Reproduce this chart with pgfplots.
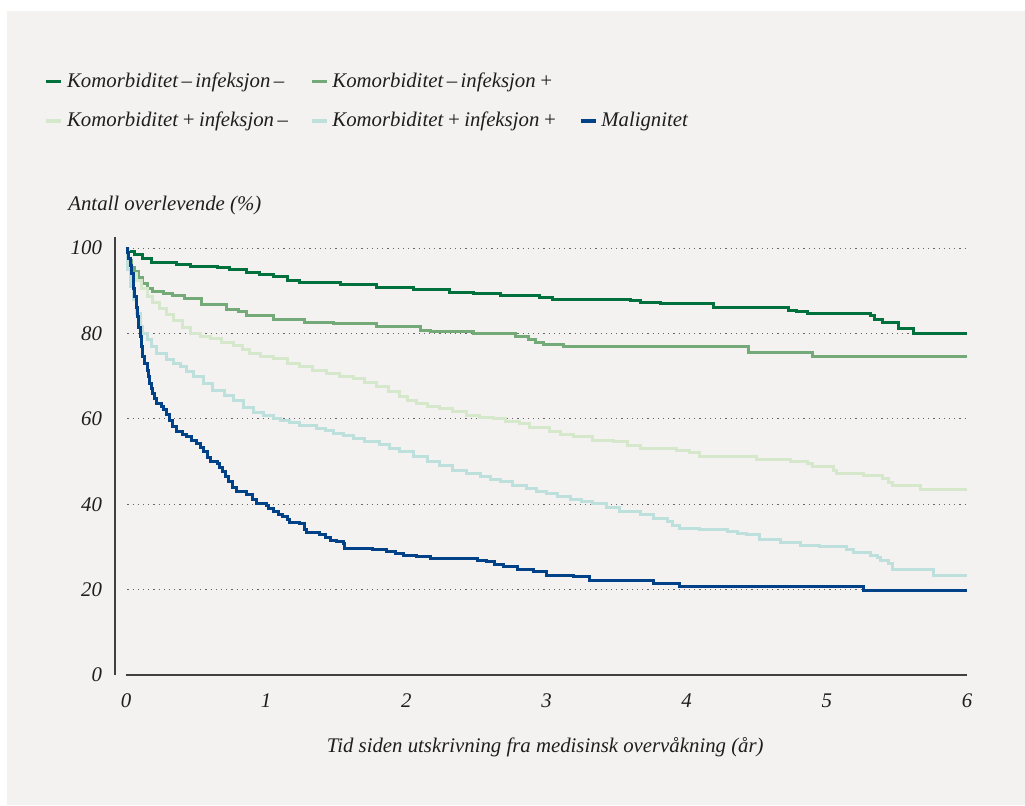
\documentclass[border=0pt]{standalone}
\usepackage{fontspec}
\setmainfont{Liberation Serif}
\usepackage{pgfplots}
\pgfplotsset{compat=1.18}
\definecolor{bg}{RGB}{243,242,240}
\definecolor{cA}{RGB}{0,112,60}
\definecolor{cB}{RGB}{115,170,120}
\definecolor{cC}{RGB}{214,232,204}
\definecolor{cD}{RGB}{190,224,220}
\definecolor{cE}{RGB}{0,65,135}
\definecolor{txt}{RGB}{30,30,30}
\newcommand{\fs}{\fontsize{10.4}{12}\selectfont\itshape}
\begin{document}
\begin{tikzpicture}
\fill[white] (-57.5pt,-65pt) rectangle (455pt,337.5pt);
\fill[bg] (-54pt,-65pt) rectangle (455pt,332pt);
\begin{axis}[
  at={(0pt,0pt)}, anchor=south west,
  scale only axis, width=426pt, height=219pt,
  xmin=-0.0785, xmax=6, ymin=0, ymax=102.6,
  axis line style={draw=none},
  major tick length=0pt,
  clip=false,
  xtick={0,1,2,3,4,5,6},
  ytick={0,20,40,60,80,100},
  /pgf/number format/assume math mode=true,
  ticklabel style={font=\fs, text=txt},
  xticklabel style={yshift=-6pt},
  yticklabel style={xshift=-3pt},
  xlabel={Tid siden utskrivning fra medisinsk overvåkning (år)},
  xlabel style={font=\fs, text=txt, at={(axis description cs:0.505,-0.164)}, anchor=center},
  ylabel={Antall overlevende (\%)},
  ylabel style={font=\fs, text=txt, rotate=-90, at={(axis description cs:-0.063,1.072)}, anchor=west},
  legend columns=3,
  legend style={at={(axis description cs:-0.09,1.395)}, anchor=north west, draw=none, fill=none,
    font=\fs, text=txt, row sep=7pt,
    /tikz/every even column/.append style={column sep=9pt}},
  legend cell align=left,
  legend image code/.code={\draw[#1, line width=1.7pt] (0pt,0pt) -- (7.5pt,0pt);},
  every axis plot/.append style={line width=1.5pt, const plot},
]
\draw[gray!80!black, dotted, line width=0.6pt] (axis cs:0.01,20) -- (axis cs:6,20);
\draw[gray!80!black, dotted, line width=0.6pt] (axis cs:0.01,40) -- (axis cs:6,40);
\draw[gray!80!black, dotted, line width=0.6pt] (axis cs:0.01,60) -- (axis cs:6,60);
\draw[gray!80!black, dotted, line width=0.6pt] (axis cs:0.01,80) -- (axis cs:6,80);
\draw[gray!80!black, dotted, line width=0.6pt] (axis cs:0.01,100) -- (axis cs:6,100);
\draw[black!75, line width=0.7pt] (axis cs:-0.0785,0) -- (axis cs:-0.0785,102.6);
\draw[black!75, line width=0.7pt] (axis cs:0,0) -- (axis cs:6,0);

\addplot[cA] coordinates {(0,100) (0.02,99.2) (0.06,98.6) (0.12,97.6) (0.18,96.6) (0.36,96.2) (0.46,95.8) (0.65,95.4) (0.74,95.0) (0.86,94.3) (0.95,93.8) (1.05,93.4) (1.15,92.5) (1.24,92.0) (1.53,91.5) (1.79,90.8) (2.05,90.2) (2.31,89.6) (2.48,89.3) (2.67,88.8) (2.95,88.4) (3.04,88.0) (3.60,87.7) (3.67,87.3) (3.81,87.0) (4.19,86.0) (4.73,85.5) (4.78,85.2) (4.86,84.7) (5.31,84.2) (5.34,83.3) (5.40,82.6) (5.51,81.2) (5.62,80.0) (6.0,80.0)};
\addlegendentry{Komorbiditet\,–\,infeksjon\,–}
\addplot[cB] coordinates {(0,100) (0.02,97) (0.04,95.5) (0.064,94.5) (0.09,93) (0.12,91.7) (0.15,90.5) (0.19,89.8) (0.27,89.4) (0.33,88.9) (0.42,88.1) (0.54,86.7) (0.72,85.7) (0.80,85.2) (0.86,84.1) (1.05,83.3) (1.27,82.6) (1.48,82.3) (1.79,81.6) (2.10,80.8) (2.17,80.4) (2.48,80.0) (2.78,79.3) (2.87,78.5) (2.92,77.9) (2.98,77.4) (3.12,76.9) (4.44,75.5) (4.90,74.5) (6.0,74.5)};
\addlegendentry{Komorbiditet\,–\,infeksjon\,+}
\addlegendimage{empty legend}
\addlegendentry{}
\addplot[cC] coordinates {(0,100) (0.02,96) (0.04,94) (0.076,92.5) (0.11,90.5) (0.15,88.6) (0.19,87.2) (0.24,85.9) (0.29,84.5) (0.34,83.1) (0.40,81.5) (0.46,80.0) (0.53,79.3) (0.60,78.8) (0.68,78.0) (0.77,77.3) (0.83,76.2) (0.88,75.3) (0.96,74.7) (1.05,74.1) (1.15,73.0) (1.24,72.2) (1.33,71.4) (1.43,70.6) (1.52,70.0) (1.62,69.5) (1.70,68.5) (1.79,67.5) (1.87,66.5) (1.95,65.2) (2.01,64.4) (2.07,63.6) (2.15,63.0) (2.24,62.5) (2.33,61.7) (2.43,60.9) (2.52,60.4) (2.62,60.1) (2.71,59.4) (2.81,58.9) (2.88,57.9) (3.02,57.0) (3.10,56.4) (3.19,55.8) (3.33,55.0) (3.48,54.7) (3.58,53.8) (3.67,53.1) (3.93,52.7) (4.02,52.2) (4.09,51.1) (4.50,50.4) (4.74,50.0) (4.86,49.6) (4.90,48.8) (5.05,48.0) (5.07,47.2) (5.26,46.8) (5.40,46.0) (5.44,45.2) (5.47,44.5) (5.67,43.5) (6.0,43.5)};
\addlegendentry{Komorbiditet\,+\,infeksjon\,–}
\addplot[cD] coordinates {(0,100) (0.01,95) (0.03,91) (0.05,88) (0.076,84.7) (0.10,81.6) (0.12,80) (0.15,78.5) (0.18,77) (0.22,75.3) (0.29,73.8) (0.34,73) (0.39,72.2) (0.43,71) (0.48,69.9) (0.55,68.3) (0.62,66.7) (0.70,65.5) (0.77,64.2) (0.84,62.6) (0.91,61.5) (0.98,60.9) (1.05,60.2) (1.10,59.7) (1.17,59.1) (1.24,58.5) (1.36,57.8) (1.42,57.2) (1.48,56.6) (1.55,56.0) (1.62,55.4) (1.70,54.6) (1.81,53.9) (1.88,53.1) (1.95,52.3) (2.05,51.2) (2.15,50.0) (2.24,49.0) (2.33,48.0) (2.43,47.2) (2.53,46.4) (2.60,45.9) (2.67,45.3) (2.76,44.5) (2.86,43.7) (2.93,43.1) (3.00,42.5) (3.08,41.8) (3.17,41.1) (3.25,40.6) (3.33,40.2) (3.43,39.2) (3.52,38.2) (3.67,37.5) (3.76,36.7) (3.86,35.9) (3.90,35.0) (3.95,34.4) (4.09,34.0) (4.29,33.6) (4.36,33.2) (4.43,32.8) (4.52,31.8) (4.67,31.0) (4.81,30.4) (4.95,30.0) (5.14,29.4) (5.19,28.6) (5.31,28.1) (5.36,27.5) (5.38,26.9) (5.44,26.2) (5.47,24.6) (5.76,23.2) (6.0,23.2)};
\addlegendentry{Komorbiditet\,+\,infeksjon\,+}
\addplot[cE] coordinates {(0,100) (0.01,99) (0.02,97.5) (0.03,96) (0.04,94) (0.05,92.5) (0.057,90.5) (0.064,88.6) (0.072,86) (0.08,83.9) (0.09,81.5) (0.10,79.2) (0.11,77) (0.12,74.5) (0.135,73) (0.15,71.4) (0.16,70) (0.17,68.3) (0.18,67) (0.19,66.0) (0.205,64.8) (0.22,63.6) (0.25,62.8) (0.27,62.1) (0.29,61) (0.31,59.5) (0.33,58.2) (0.36,57.0) (0.40,56.4) (0.43,55.8) (0.47,55.0) (0.50,54.2) (0.53,53.2) (0.55,52.3) (0.58,51.0) (0.60,50.0) (0.65,49.6) (0.67,48.6) (0.69,47.6) (0.71,46.4) (0.73,45.3) (0.76,44.0) (0.79,42.9) (0.86,42.2) (0.90,41.0) (0.93,40.2) (1.00,39.8) (1.02,39.0) (1.05,38.2) (1.09,37.6) (1.12,37.1) (1.15,36.4) (1.17,35.7) (1.24,35.4) (1.27,34.2) (1.29,33.3) (1.38,32.8) (1.42,32.2) (1.46,31.6) (1.50,31.2) (1.55,30.8) (1.56,29.7) (1.76,29.4) (1.86,29.0) (1.92,28.5) (1.98,28.1) (2.07,27.7) (2.17,27.3) (2.51,26.9) (2.57,26.5) (2.63,26.0) (2.69,25.4) (2.79,24.8) (2.91,24.3) (3.00,23.4) (3.19,23.0) (3.31,22.2) (3.76,21.5) (3.95,20.7) (5.26,19.8) (6.0,19.8)};
\addlegendentry{Malignitet}
\end{axis}
\pgfresetboundingbox
\useasboundingbox (-57.5pt,-65pt) rectangle (455pt,337.5pt);
\end{tikzpicture}
\end{document}
